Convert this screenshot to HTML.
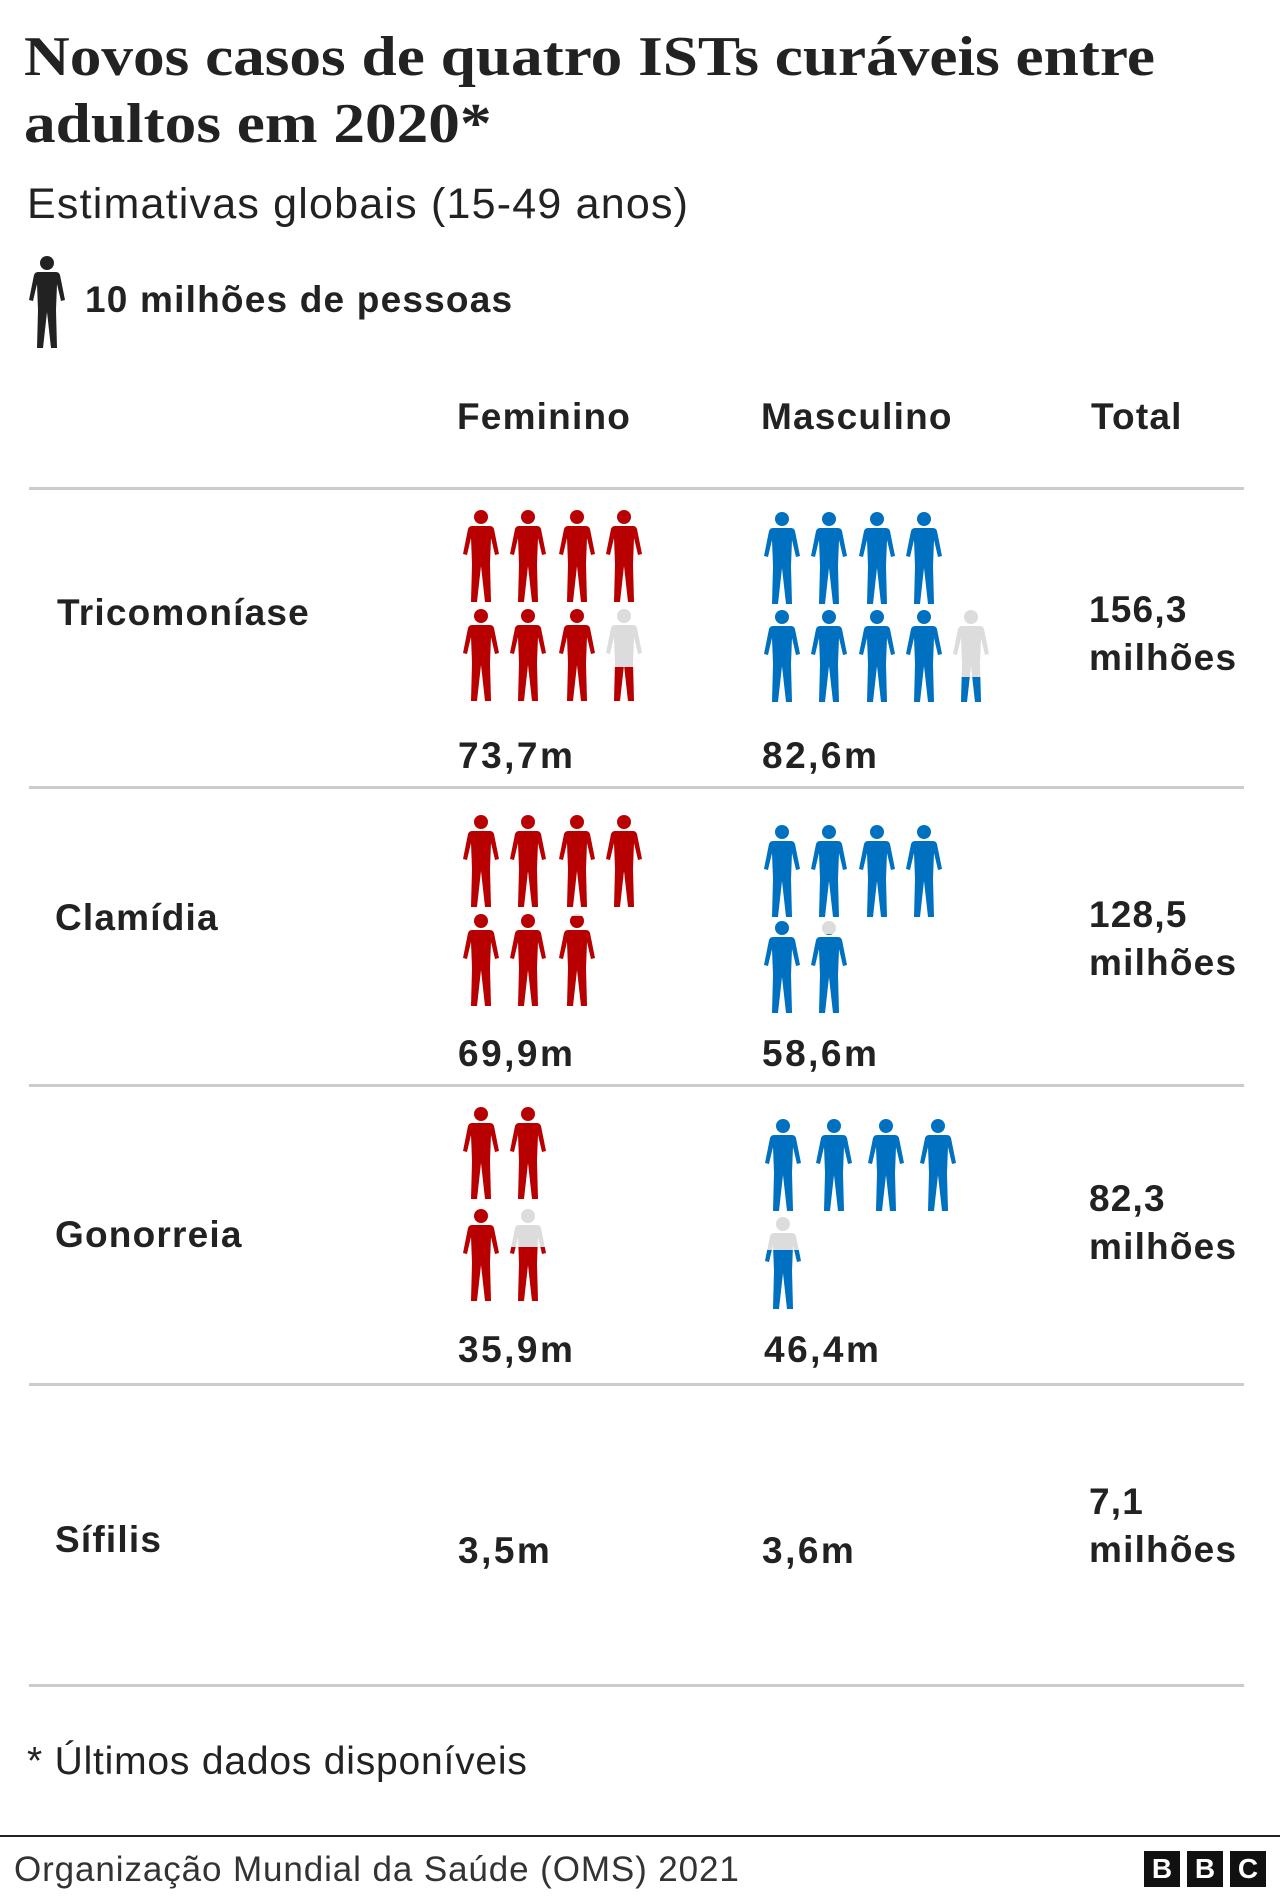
<!DOCTYPE html>
<html><head><meta charset="utf-8"><style>
body{margin:0;width:1280px;height:1898px;background:#fff;position:relative;font-family:"Liberation Sans",sans-serif;color:#222;overflow:hidden}
.t{position:absolute;white-space:nowrap}
.b{font-weight:bold;letter-spacing:1.2px}
.v{letter-spacing:2.5px}
.h{position:absolute;left:29px;width:1215px;height:3px;background:#ccc}
</style></head><body>
<div class="t" style="left:24px;top:24px;font-weight:bold;font-family:'Liberation Serif',serif;font-size:56px;line-height:67px;transform:scaleX(1.13);transform-origin:0 0">Novos casos de quatro ISTs curáveis entre<br>adultos em 2020*</div>
<div class="t" style="left:27px;top:181px;font-size:43px;line-height:46px;letter-spacing:1.2px">Estimativas globais (15-49 anos)</div>
<svg class="t" style="left:29px;top:256px" width="36" height="92" viewBox="0 0 36 92"><circle cx="18" cy="7" r="7" fill="#222"/><path fill="#222" d="M9,16 H27 Q30,16 31,19 L36,44 L32,45 L28,28 L27,54 L28,92 H22 L18,56 L14,92 H8 L9,54 L8,28 L4,45 L0,44 L5,19 Q6,16 9,16 Z"/></svg>
<div class="t b" style="left:85px;top:282px;font-size:37px;line-height:36px">10 milhões de pessoas</div>
<div class="t b" style="left:457px;top:398px;font-size:37px;line-height:38px">Feminino</div>
<div class="t b" style="left:761px;top:398px;font-size:37px;line-height:38px">Masculino</div>
<div class="t b" style="left:1091px;top:398px;font-size:37px;line-height:38px">Total</div>
<div class="h" style="top:487px"></div>
<div class="h" style="top:786px"></div>
<div class="h" style="top:1084px"></div>
<div class="h" style="top:1383px"></div>
<div class="h" style="top:1684px"></div>
<div class="t b" style="left:57px;top:594px;font-size:37px;line-height:38px">Tricomoníase</div>
<div class="t b" style="left:55px;top:899px;font-size:37px;line-height:38px">Clamídia</div>
<div class="t b" style="left:55px;top:1216px;font-size:37px;line-height:38px">Gonorreia</div>
<div class="t b" style="left:55px;top:1521px;font-size:37px;line-height:38px">Sífilis</div>
<div class="t b v" style="left:458px;top:737px;font-size:37px;line-height:38px">73,7m</div>
<div class="t b v" style="left:762px;top:737px;font-size:37px;line-height:38px">82,6m</div>
<div class="t b v" style="left:458px;top:1035px;font-size:37px;line-height:38px">69,9m</div>
<div class="t b v" style="left:762px;top:1035px;font-size:37px;line-height:38px">58,6m</div>
<div class="t b v" style="left:458px;top:1331px;font-size:37px;line-height:38px">35,9m</div>
<div class="t b v" style="left:764px;top:1331px;font-size:37px;line-height:38px">46,4m</div>
<div class="t b v" style="left:458px;top:1532px;font-size:37px;line-height:38px">3,5m</div>
<div class="t b v" style="left:762px;top:1532px;font-size:37px;line-height:38px">3,6m</div>
<div class="t b" style="left:1089px;top:586px;font-size:37px;line-height:48px">156,3<br>milhões</div>
<div class="t b" style="left:1089px;top:891px;font-size:37px;line-height:48px">128,5<br>milhões</div>
<div class="t b" style="left:1089px;top:1175px;font-size:37px;line-height:48px">82,3<br>milhões</div>
<div class="t b" style="left:1089px;top:1478px;font-size:37px;line-height:48px">7,1<br>milhões</div>
<div class="t" style="left:27px;top:1741px;font-size:39px;line-height:42px;letter-spacing:0.8px">* Últimos dados disponíveis</div>
<div style="position:absolute;left:0;top:1835px;width:1280px;height:2px;background:#222"></div>
<div class="t" style="left:14px;top:1851px;font-size:35px;line-height:38px;color:#333;letter-spacing:0.9px">Organização Mundial da Saúde (OMS) 2021</div>
<div class="t" style="font-weight:bold;left:1144px;top:1851px;width:36px;height:36px;background:#111;color:#fff;font-size:28px;line-height:36px;text-align:center">B</div>
<div class="t" style="font-weight:bold;left:1187px;top:1851px;width:36px;height:36px;background:#111;color:#fff;font-size:28px;line-height:36px;text-align:center">B</div>
<div class="t" style="font-weight:bold;left:1230px;top:1851px;width:36px;height:36px;background:#111;color:#fff;font-size:28px;line-height:36px;text-align:center">C</div>
<svg style="position:absolute;left:0;top:0" width="1280" height="1898">
<defs>
<g id="p"><circle cx="18" cy="7" r="7"/><path d="M9,16 H27 Q30,16 31,19 L36,44 L32,45 L28,28 L27,54 L28,92 H22 L18,56 L14,92 H8 L9,54 L8,28 L4,45 L0,44 L5,19 Q6,16 9,16 Z"/></g>
<clipPath id="c1"><rect x="0" y="667" width="1280" height="100"/></clipPath>
<clipPath id="c2"><rect x="0" y="677" width="1280" height="100"/></clipPath>
<clipPath id="c3"><rect x="0" y="916" width="1280" height="100"/></clipPath>
<clipPath id="c4"><rect x="0" y="934" width="1280" height="100"/></clipPath>
<clipPath id="c5"><rect x="0" y="1247" width="1280" height="100"/></clipPath>
<clipPath id="c6"><rect x="0" y="1250" width="1280" height="100"/></clipPath>
</defs>
<g fill="#b80000">
<use href="#p" x="463" y="510"/><use href="#p" x="510" y="510"/><use href="#p" x="559" y="510"/><use href="#p" x="606" y="510"/>
<use href="#p" x="463" y="609"/><use href="#p" x="510" y="609"/><use href="#p" x="559" y="609"/>
<use href="#p" x="463" y="815"/><use href="#p" x="510" y="815"/><use href="#p" x="559" y="815"/><use href="#p" x="606" y="815"/>
<use href="#p" x="463" y="914"/><use href="#p" x="510" y="914"/>
<use href="#p" x="463" y="1107"/><use href="#p" x="510" y="1107"/>
<use href="#p" x="463" y="1209"/>
</g>
<g fill="#0070c0">
<use href="#p" x="764" y="512"/><use href="#p" x="811" y="512"/><use href="#p" x="859" y="512"/><use href="#p" x="906" y="512"/>
<use href="#p" x="764" y="610"/><use href="#p" x="811" y="610"/><use href="#p" x="859" y="610"/><use href="#p" x="906" y="610"/>
<use href="#p" x="764" y="825"/><use href="#p" x="811" y="825"/><use href="#p" x="859" y="825"/><use href="#p" x="906" y="825"/>
<use href="#p" x="764" y="921"/>
<use href="#p" x="765" y="1119"/><use href="#p" x="816" y="1119"/><use href="#p" x="868" y="1119"/><use href="#p" x="920" y="1119"/>
</g>
<g fill="#dcdcdc">
<use href="#p" x="606" y="609"/><use href="#p" x="953" y="610"/><use href="#p" x="559" y="914"/><use href="#p" x="811" y="921"/><use href="#p" x="510" y="1209"/><use href="#p" x="765" y="1217"/>
</g>
<g fill="#b80000"><g clip-path="url(#c1)"><use href="#p" x="606" y="609"/></g><g clip-path="url(#c3)"><use href="#p" x="559" y="914"/></g><g clip-path="url(#c5)"><use href="#p" x="510" y="1209"/></g></g>
<g fill="#0070c0"><g clip-path="url(#c2)"><use href="#p" x="953" y="610"/></g><g clip-path="url(#c4)"><use href="#p" x="811" y="921"/></g><g clip-path="url(#c6)"><use href="#p" x="765" y="1217"/></g></g>
</svg>
</body></html>
